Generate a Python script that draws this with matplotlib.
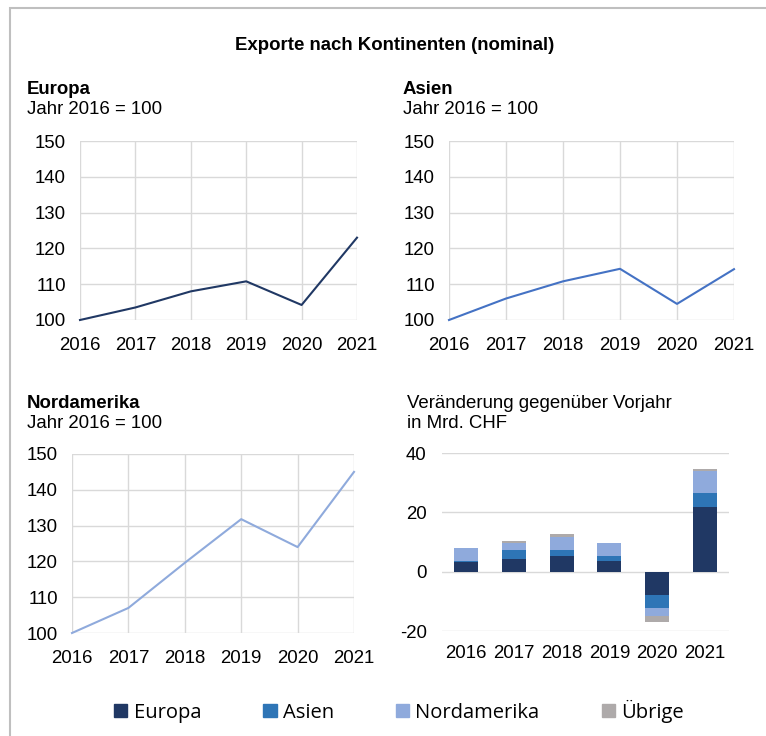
import matplotlib
matplotlib.use("Agg")
import matplotlib.pyplot as plt
from matplotlib.patches import Rectangle, Patch

plt.rcParams['font.family'] = ['Liberation Sans', 'DejaVu Sans']
plt.rcParams['axes.unicode_minus'] = False

# Daten
jahre = [2016, 2017, 2018, 2019, 2020, 2021]
europa_idx = [100, 103.5, 108, 110.8, 104.2, 123]
asien_idx = [100, 106, 110.8, 114.3, 104.5, 114.2]
nordam_idx = [100, 107, 119.6, 131.8, 124, 145]

# Veränderung gegenüber Vorjahr (Mrd. CHF)
d_europa = [3.4, 4.3, 5.2, 3.6, -7.8, 21.9]
d_asien = [0.3, 2.9, 2.1, 1.6, -4.5, 4.7]
d_nordam = [4.2, 2.4, 4.3, 4.3, -2.8, 7.2]
d_uebrige = [0.0, 0.7, 1.2, 0.1, -1.9, 0.7]

c_eu = '#203864'
c_as = '#2E75B6'
c_na = '#8FAADC'
c_ub = '#AEAAAA'
grid_c = '#d9d9d9'
fs = 13.4

W, H = 766, 736
fig = plt.figure(figsize=(W / 100, H / 100), dpi=100)

def box(x0, y0, x1, y1):
    return [x0 / W, 1 - y1 / H, (x1 - x0) / W, (y1 - y0) / H]

# Rahmen
fig.patches.append(Rectangle((10 / W, -0.1), 1.2, 1 - 8 / H + 0.1, transform=fig.transFigure,
                             fill=False, edgecolor='#bfbfbf', linewidth=1.5))

fig.text(395 / W, 1 - 46 / H, 'Exporte nach Kontinenten (nominal)', ha='center', va='center',
         fontsize=fs, fontweight='bold')

def linechart(rect, werte, farbe, titel, tx, ty):
    ax = fig.add_axes(box(*rect))
    ax.plot(jahre, werte, color=farbe, linewidth=1.5, clip_on=False, zorder=3)
    ax.set_xlim(2016, 2021)
    ax.set_ylim(100, 150)
    ax.set_xticks(jahre)
    ax.set_yticks([100, 110, 120, 130, 140, 150])
    ax.grid(True, color=grid_c, linewidth=1)
    for s in ax.spines.values():
        s.set_visible(False)
    ax.tick_params(length=0, labelsize=fs)
    ax.tick_params(axis='x', pad=12.5)
    ax.tick_params(axis='y', pad=10)
    fig.text(tx / W, 1 - ty / H, titel, fontsize=fs, fontweight='bold', va='center')
    fig.text(tx / W, 1 - (ty + 20) / H, 'Jahr 2016 = 100', fontsize=fs, va='center')
    return ax

linechart((80, 141, 357, 320), europa_idx, c_eu, 'Europa', 27, 90)
linechart((449, 141, 734, 320), asien_idx, '#4472C4', 'Asien', 403, 90)
linechart((72, 454, 354, 633), nordam_idx, c_na, 'Nordamerika', 27, 404)

# Balkendiagramm
ax = fig.add_axes(box(442, 453, 729, 631))
x = list(range(len(jahre)))
bw = 0.5
pos_base = [0.0] * 6
neg_base = [0.0] * 6
for werte, farbe in [(d_europa, c_eu), (d_asien, c_as), (d_nordam, c_na), (d_uebrige, c_ub)]:
    bottoms = []
    for i, v in enumerate(werte):
        if v >= 0:
            bottoms.append(pos_base[i])
            pos_base[i] += v
        else:
            bottoms.append(neg_base[i])
            neg_base[i] += v
    ax.bar(x, werte, bw, bottom=bottoms, color=farbe, zorder=3)
ax.set_xlim(-0.5, 5.5)
ax.set_ylim(-20, 40)
ax.set_yticks([-20, 0, 20, 40])
ax.set_xticks(x)
ax.set_xticklabels([str(j) for j in jahre])
ax.grid(True, axis='y', color=grid_c, linewidth=1)
for s in ax.spines.values():
    s.set_visible(False)
ax.tick_params(length=0, labelsize=fs)
ax.tick_params(axis='x', pad=10)
ax.tick_params(axis='y', pad=11)
fig.text(407 / W, 1 - 403 / H, 'Veränderung gegenüber Vorjahr', fontsize=fs, va='center')
fig.text(407 / W, 1 - 423 / H, 'in Mrd. CHF', fontsize=fs, va='center')

handles = [Patch(color=c_eu, label='Europa'), Patch(color=c_as, label='Asien'),
           Patch(color=c_na, label='Nordamerika'), Patch(color=c_ub, label='Übrige')]
fig.legend(handles=handles, loc='center', bbox_to_anchor=(399 / W, 1 - 711 / H), ncol=4,
           frameon=False, handlelength=0.65, handleheight=0.65, handletextpad=0.3,
           columnspacing=3.1, prop={'family': ['Open Sans', 'DejaVu Sans'], 'size': 14.5})

fig.savefig('out.png', dpi=100)
